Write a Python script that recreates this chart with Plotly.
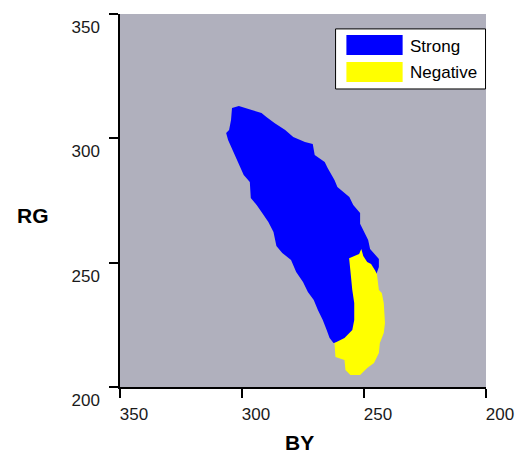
import plotly.graph_objects as go

# Tick values / labels
x_ticks = [350, 300, 250, 200]
y_ticks = [200, 250, 300, 350]

# "Strong" region outline (BY, RG)
strong_by = [304.1, 301.3, 296.0, 292.0, 290.0, 286.7, 282.3, 279.0, 274.2, 271.0,
             270.2, 266.1, 264.9, 262.1, 260.9, 258.0, 256.0, 254.4, 251.6, 251.6,
             249.9, 248.3, 247.5, 245.5, 243.9, 243.9, 248.7, 252.8, 256.8,
             262.5, 264.1, 265.3, 266.9, 268.9, 270.6, 273.0, 275.0, 277.8, 279.9,
             283.5, 285.9, 287.1, 289.2, 292.0, 294.0, 296.4, 296.8, 299.3, 301.3,
             302.9, 304.5, 305.7, 306.5, 305.3, 304.5]
strong_rg = [312.2, 313.0, 311.4, 310.2, 308.6, 306.2, 303.4, 300.5, 298.5, 297.7,
             293.3, 290.5, 288.1, 283.2, 280.4, 278.0, 276.4, 273.2, 270.0, 265.6,
             261.9, 259.1, 255.5, 253.1, 251.5, 248.3, 235.0, 220.9, 218.5,
             217.7, 219.7, 222.9, 226.9, 231.0, 235.0, 238.2, 242.2, 246.2, 251.1,
             253.9, 256.7, 262.3, 266.4, 270.4, 273.2, 276.0, 282.4, 285.3, 289.7,
             293.3, 296.5, 299.3, 302.1, 303.4, 307.4]

# "Negative" region outline (BY, RG)
neg_by = [256.1, 253.6, 252.0, 251.1, 250.3, 248.7, 247.1, 245.5, 244.7, 243.9,
          242.7, 241.9, 241.4, 241.9, 243.5, 243.9, 245.9, 248.7, 251.6, 255.6,
          257.6, 258.0, 261.7, 262.1, 258.0, 254.8, 254.0, 254.0, 254.8, 255.6]
neg_rg = [251.8, 252.7, 253.5, 255.5, 252.7, 250.3, 249.5, 247.0, 245.4, 239.0,
          237.8, 233.8, 225.7, 221.7, 217.7, 213.7, 209.7, 207.6, 204.8, 204.8,
          206.8, 210.9, 212.1, 217.7, 219.7, 222.9, 226.9, 233.8, 239.0, 247.0]

series_names = ["Strong", "Negative"]
series_colors = ["#0000ff", "#ffff00"]

fig = go.Figure()
fig.add_trace(go.Scatter(x=strong_by, y=strong_rg, fill="toself", mode="lines",
                         line=dict(width=0, color=series_colors[0]),
                         fillcolor=series_colors[0], name=series_names[0],
                         showlegend=False, hoverinfo="skip"))
fig.add_trace(go.Scatter(x=neg_by, y=neg_rg, fill="toself", mode="lines",
                         line=dict(width=0, color=series_colors[1]),
                         fillcolor=series_colors[1], name=series_names[1],
                         showlegend=False, hoverinfo="skip"))

tickfont = dict(family="Liberation Sans, Arial, sans-serif", size=17, color="#1a1a1a")

fig.update_layout(
    width=526, height=455,
    margin=dict(l=120, r=35, t=14, b=68),
    paper_bgcolor="white",
    plot_bgcolor="#b0b0bd",
    hovermode=False,
    xaxis=dict(range=[350, 200], tickvals=x_ticks, ticktext=[str(v) for v in x_ticks],
               showgrid=False, zeroline=False, showline=True, linecolor="black",
               linewidth=1.5, ticks="outside", ticklen=9, tickwidth=1.5,
               tickcolor="black", tickfont=tickfont, ticklabelshift=-14,
               ticklabelstandoff=2),
    yaxis=dict(range=[200, 350], tickvals=y_ticks, ticktext=[str(v) for v in y_ticks],
               showgrid=False, zeroline=False, showline=True, linecolor="black",
               linewidth=1.5, ticks="outside", ticklen=9, tickwidth=1.5,
               tickcolor="black", tickfont=tickfont, ticklabelshift=13,
               ticklabelstandoff=6),
)

# Axis titles
titlefont = dict(family="Liberation Sans, Arial, sans-serif", size=21, color="black")
fig.add_annotation(text="<b>RG</b>", xref="paper", yref="paper", x=-0.237, y=0.46,
                   showarrow=False, font=titlefont, xanchor="center", yanchor="middle")
fig.add_annotation(text="<b>BY</b>", xref="paper", yref="paper", x=0.49, y=-0.15,
                   showarrow=False, font=titlefont, xanchor="center", yanchor="middle")

# Legend box
fig.add_shape(type="rect", xref="paper", yref="paper", x0=0.589, x1=0.9987,
              y0=0.799, y1=0.960, fillcolor="white", line=dict(color="black", width=1))
legend_y = [(0.890, 0.9437, 0.914), (0.8177, 0.8713, 0.842)]
for name, color, (y0, y1, ty) in zip(series_names, series_colors, legend_y):
    fig.add_shape(type="rect", xref="paper", yref="paper", x0=0.6186, x1=0.7722,
                  y0=y0, y1=y1, fillcolor=color, line=dict(width=0))
    fig.add_annotation(text=name, xref="paper", yref="paper", x=0.7857, y=ty,
                       showarrow=False, xanchor="left", yanchor="middle",
                       font=dict(family="Liberation Sans, Arial, sans-serif", size=17,
                                 color="black"))

fig.write_html("out.html", config={"displayModeBar": False},
               post_script="document.body.style.margin='0';")
